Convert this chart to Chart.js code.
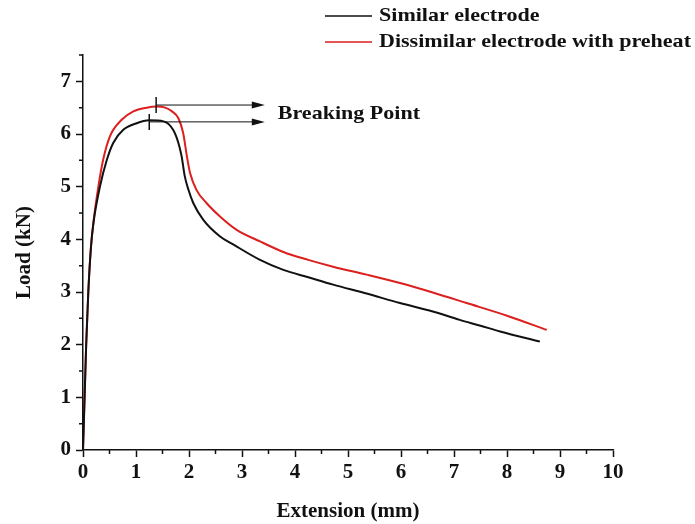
<!DOCTYPE html>
<html>
<head>
<meta charset="utf-8">
<script src="https://cdn.jsdelivr.net/npm/chart.js@4/dist/chart.umd.min.js"></script>
<style>
  html, body { margin: 0; padding: 0; background: #fff; }
</style>
</head>
<body>
<canvas id="loadChart" width="695" height="524"></canvas>
<script>
// extension (mm) / load (kN)
var similarExt = [0, 0.03, 0.06, 0.1, 0.15, 0.2, 0.32, 0.45, 0.57, 0.76, 1.0, 1.25, 1.52, 1.7, 1.8, 1.86, 1.92, 1.99, 2.08, 2.27, 2.58, 2.84, 3.34, 3.78, 4.25, 4.72, 5.35, 5.98, 6.6, 7.11, 7.5, 7.87, 8.62];
var similarLoad = [0, 1, 2, 3, 3.85, 4.33, 5.0, 5.51, 5.83, 6.08, 6.2, 6.26, 6.24, 6.08, 5.83, 5.58, 5.2, 4.94, 4.69, 4.37, 4.06, 3.9, 3.61, 3.42, 3.28, 3.14, 2.97, 2.79, 2.63, 2.47, 2.36, 2.25, 2.06];

var preheatExt = [0, 0.03, 0.06, 0.1, 0.15, 0.2, 0.29, 0.38, 0.51, 0.73, 0.95, 1.2, 1.39, 1.55, 1.68, 1.8, 1.89, 1.96, 2.02, 2.14, 2.33, 2.6, 2.9, 3.34, 3.78, 4.25, 4.72, 5.35, 5.98, 6.6, 7.24, 8.0, 8.75];
var preheatLoad = [0, 1, 2, 3, 3.85, 4.35, 5.0, 5.51, 5.96, 6.27, 6.43, 6.5, 6.52, 6.5, 6.43, 6.3, 6.02, 5.58, 5.26, 4.94, 4.69, 4.42, 4.18, 3.96, 3.76, 3.61, 3.48, 3.33, 3.17, 2.99, 2.79, 2.55, 2.28];

var seriesLabels = ["Similar electrode", "Dissimilar electrode with preheat"];

// breaking point marks (black, red) and where the arrows end
var breakExt = [1.25, 1.38];
var breakLoad = [6.23, 6.55];
var arrowEndExt = 3.43;
var breakText = "Breaking Point";

var xMax = 10;
var yMax = 7.5;

function toPoints(xs, ys) {
  var pts = [];
  for (var i = 0; i < xs.length; i++) {
    pts.push({x: xs[i], y: ys[i]});
  }
  return pts;
}

var serifFamily = "'Liberation Serif', 'Times New Roman', serif";
var serifBold = {family: serifFamily, size: 21, weight: 'bold'};

// the source text is a bit wider than it is tall
function wideText(ctx, text, x, y) {
  ctx.save();
  ctx.translate(x, y);
  ctx.scale(1.16, 1);
  ctx.fillText(text, 0, 0);
  ctx.restore();
}

var extras = {
  id: 'extras',
  afterDraw: function(chart) {
    var ctx = chart.ctx;
    var xs = chart.scales.x, ys = chart.scales.y;
    var v;
    ctx.save();
    ctx.strokeStyle = '#111';
    ctx.fillStyle = '#111';
    ctx.lineWidth = 1.5;

    // minor ticks
    ctx.beginPath();
    for (v = 0.5; v < xMax; v += 1) {
      var px = xs.getPixelForValue(v);
      ctx.moveTo(px, ys.bottom);
      ctx.lineTo(px, ys.bottom + 4);
    }
    for (v = 0.5; v <= yMax; v += 1) {
      var py = ys.getPixelForValue(v);
      ctx.moveTo(xs.left, py);
      ctx.lineTo(xs.left - 4, py);
    }
    ctx.stroke();

    // breaking point arrows
    var xEnd = xs.getPixelForValue(arrowEndExt);
    for (var i = 0; i < breakExt.length; i++) {
      var bx = xs.getPixelForValue(breakExt[i]);
      var by = ys.getPixelForValue(breakLoad[i]);
      ctx.lineWidth = 1.5;
      ctx.beginPath();
      ctx.moveTo(bx, by - 8);
      ctx.lineTo(bx, by + 8);
      ctx.stroke();
      ctx.lineWidth = 1;
      ctx.beginPath();
      ctx.moveTo(bx, by);
      ctx.lineTo(xEnd - 10, by);
      ctx.stroke();
      ctx.beginPath();
      ctx.moveTo(xEnd, by);
      ctx.lineTo(xEnd - 13, by - 3.5);
      ctx.lineTo(xEnd - 13, by + 3.5);
      ctx.closePath();
      ctx.fill();
    }
    ctx.font = 'bold 19px ' + serifFamily;
    ctx.textBaseline = 'middle';
    ctx.textAlign = 'left';
    wideText(ctx, breakText, xEnd + 13, (ys.getPixelForValue(breakLoad[0]) + ys.getPixelForValue(breakLoad[1])) / 2 + 1);

    // legend, top right
    var ds = chart.data.datasets;
    for (var k = 0; k < ds.length; k++) {
      var ly = 16 + k * 26;
      ctx.strokeStyle = ds[k].borderColor;
      ctx.lineWidth = 1.5;
      ctx.beginPath();
      ctx.moveTo(325, ly);
      ctx.lineTo(372, ly);
      ctx.stroke();
      ctx.fillStyle = '#111';
      wideText(ctx, ds[k].label, 379, ly);
    }
    ctx.restore();
  }
};

var ctx = document.getElementById("loadChart").getContext("2d");

var chart = new Chart(ctx, {
  type: 'scatter',
  data: {
    datasets: [
      {
        label: seriesLabels[0],
        data: toPoints(similarExt, similarLoad),
        showLine: true,
        borderColor: '#111111',
        borderWidth: 2,
        pointRadius: 0,
        cubicInterpolationMode: 'monotone'
      },
      {
        label: seriesLabels[1],
        data: toPoints(preheatExt, preheatLoad),
        showLine: true,
        borderColor: '#dc1f1f',
        borderWidth: 2,
        pointRadius: 0,
        cubicInterpolationMode: 'monotone'
      }
    ]
  },
  options: {
    responsive: false,
    devicePixelRatio: 1,
    animation: false,
    layout: {padding: {left: 0, top: 55, right: 82, bottom: 0}},
    plugins: {
      legend: {display: false},
      tooltip: {enabled: false}
    },
    scales: {
      x: {
        type: 'linear',
        min: 0,
        max: xMax,
        afterFit: function(s) { s.height = 74; },
        border: {display: true, color: '#111', width: 1.5},
        grid: {drawOnChartArea: false, drawTicks: true, tickLength: 7, tickColor: '#111', tickWidth: 1.5},
        ticks: {stepSize: 1, color: '#111', font: serifBold, padding: 3, maxRotation: 0},
        title: {display: true, text: 'Extension (mm)', color: '#111', font: serifBold, padding: {top: 2, bottom: 0}}
      },
      y: {
        type: 'linear',
        min: 0,
        max: yMax,
        afterFit: function(s) { s.width = 83; },
        border: {display: true, color: '#111', width: 1.5},
        grid: {
          drawOnChartArea: false, drawTicks: true, tickLength: 7, tickWidth: 1.5,
          tickColor: function(c) { return (c.tick && c.tick.value % 1 !== 0) ? 'rgba(0,0,0,0)' : '#111'; }
        },
        ticks: {
          stepSize: 1, color: '#111', font: serifBold, padding: 5,
          callback: function(v) { return v % 1 === 0 ? v : ''; }
        },
        title: {display: true, text: 'Load (kN)', color: '#111', font: serifBold, padding: {top: 12, bottom: 0}}
      }
    }
  },
  plugins: [extras]
});
</script>
</body>
</html>
